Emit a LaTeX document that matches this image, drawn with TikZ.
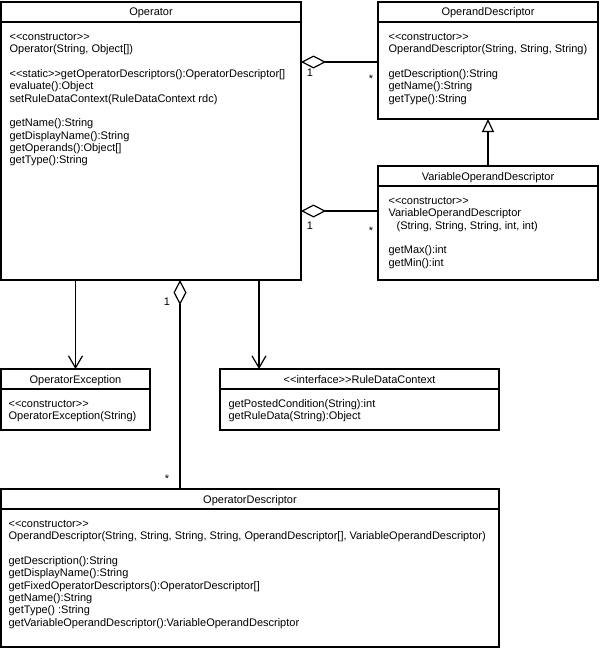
\documentclass[tikz,border=0pt]{standalone}
\usepackage{fontspec}
\setmainfont{Liberation Sans}[Ligatures=TeXOff]
\usetikzlibrary{arrows.meta,calc}
\newcommand\bs{\rule{0pt}{9pt}}
\begin{document}
\begin{tikzpicture}[x=1pt,y=-1pt,line width=1.2pt,
  cls/.style={draw, anchor=north west, inner sep=0pt, outer sep=0pt},
  ttl/.style={anchor=base, inner sep=0pt, font=\fontsize{11}{12.3}\selectfont},
  body/.style={anchor=north west, align=left, inner sep=0pt, font=\fontsize{11}{12.3}\selectfont},
  mult/.style={inner sep=0pt, font=\fontsize{11}{12}\selectfont},
  dep/.style={-{Straight Barb[length=12pt,width=14pt]}},
  agg/.style={{Diamond[open,length=25pt,width=13pt]}-},
  gen/.style={-{Triangle[open,length=13pt,width=12pt]}}]
\useasboundingbox (0,0) rectangle (600,653);

% Operator
\node[cls,minimum width=300pt,minimum height=278pt] (op) at (1,2) {};
\draw ($(op.north west)+(0pt,-20pt)$) -- ($(op.north east)+(0pt,-20pt)$);
\node[ttl] (opt) at ($(op.north)+(0pt,-14pt)$) {Operator};
\node[body] (opb) at ($(op.north west)+(8pt,-29pt)$) {\bs<<constructor>>\\
Operator(String, Object[])\\[12.3pt]
<<static>>getOperatorDescriptors():OperatorDescriptor[]\\
evaluate():Object\\
setRuleDataContext(RuleDataContext rdc)\\[12.3pt]
getName():String\\
getDisplayName():String\\
getOperands():Object[]\\
getType():String};

% OperandDescriptor
\node[cls,minimum width=220pt,minimum height=117pt] (od) at (378,2) {};
\draw ($(od.north west)+(0pt,-20pt)$) -- ($(od.north east)+(0pt,-20pt)$);
\node[ttl] (odt) at ($(od.north)+(0pt,-14pt)$) {OperandDescriptor};
\node[body] (odb) at ($(od.north west)+(10pt,-29pt)$) {\bs<<constructor>>\\
OperandDescriptor(String, String, String)\\[12.3pt]
getDescription():String\\
getName():String\\
getType():String};

% VariableOperandDescriptor
\node[cls,minimum width=220pt,minimum height=114pt] (vod) at (378,166) {};
\draw ($(vod.north west)+(0pt,-20pt)$) -- ($(vod.north east)+(0pt,-20pt)$);
\node[ttl] (vodt) at ($(vod.north)+(0pt,-14pt)$) {VariableOperandDescriptor};
\node[body] (vodb) at ($(vod.north west)+(10pt,-29pt)$) {\bs<<constructor>>\\
VariableOperandDescriptor\\
\hspace*{8pt}(String, String, String, int, int)\\[12.3pt]
getMax():int\\
getMin():int};

% OperatorException
\node[cls,minimum width=149pt,minimum height=61pt] (oe) at (1,369) {};
\draw ($(oe.north west)+(0pt,-20pt)$) -- ($(oe.north east)+(0pt,-20pt)$);
\node[ttl] (oet) at ($(oe.north)+(0pt,-14pt)$) {OperatorException};
\node[body] (oeb) at ($(oe.north west)+(7pt,-29pt)$) {\bs<<constructor>>\\
OperatorException(String)};

% RuleDataContext
\node[cls,minimum width=279pt,minimum height=61pt] (rdc) at (220,369) {};
\draw ($(rdc.north west)+(0pt,-20pt)$) -- ($(rdc.north east)+(0pt,-20pt)$);
\node[ttl] (rdct) at ($(rdc.north)+(0pt,-14pt)$) {<<interface>>RuleDataContext};
\node[body] (rdcb) at ($(rdc.north west)+(8pt,-29pt)$) {\bs getPostedCondition(String):int\\
getRuleData(String):Object};

% OperatorDescriptor
\node[cls,minimum width=498pt,minimum height=158pt] (opd) at (1,489) {};
\draw ($(opd.north west)+(0pt,-20pt)$) -- ($(opd.north east)+(0pt,-20pt)$);
\node[ttl] (opdt) at ($(opd.north)+(0pt,-14pt)$) {OperatorDescriptor};
\node[body] (opdb) at ($(opd.north west)+(7pt,-29pt)$) {\bs<<constructor>>\\
OperandDescriptor(String, String, String, String, OperandDescriptor[], VariableOperandDescriptor)\\[12.3pt]
getDescription():String\\
getDisplayName():String\\
getFixedOperatorDescriptors():OperatorDescriptor[]\\
getName():String\\
getType() :String\\
getVariableOperandDescriptor():VariableOperandDescriptor};

% connectors
\draw[agg] (op.east |- 0,62) -- (od.west |- 0,62);
\draw[agg] (op.east |- 0,211) -- (vod.west |- 0,211);
\draw[gen] (vod.north) -- (od.south);
\draw[dep] (oe.north |- op.south) -- (oe.north);
\draw[dep] (op.south -| 259,0) -- (rdc.north -| 259,0);
\draw[agg] (op.south -| 180,0) -- (opd.north -| 180,0);

% multiplicities
\node[mult] (m1) at (310,73) {1};
\node[mult] (m2) at (371,79) {*};
\node[mult] (m3) at (310,226) {1};
\node[mult] (m4) at (371,231) {*};
\node[mult] (m5) at (167,302) {1};
\node[mult] (m6) at (167,479) {*};
\end{tikzpicture}
\end{document}
